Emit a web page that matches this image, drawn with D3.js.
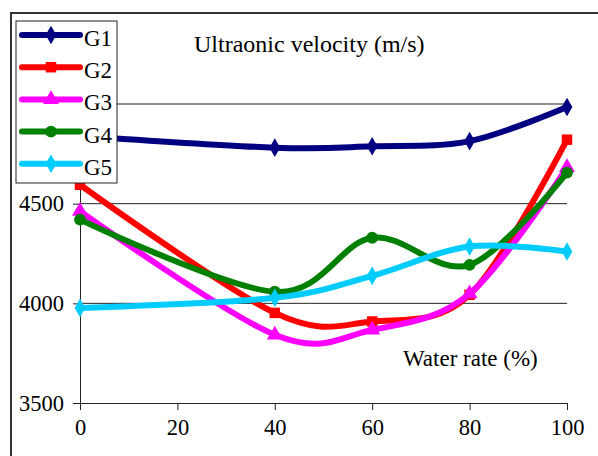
<!DOCTYPE html>
<html>
<head>
<meta charset="utf-8">
<script src="https://cdn.jsdelivr.net/npm/d3@7"></script>
</head>
<body style="margin:0; background:#fff">
<svg id="chart" width="598" height="456" font-family="Liberation Serif"></svg>
<script>
// water rate (%)
var waterRate = [0, 40, 60, 80, 100];
var seriesNames = ["G1", "G2", "G3", "G4", "G5"];
var g1 = [4840, 4781, 4788, 4814, 4985];
var g2 = [4595, 3952, 3909, 4043, 4821];
var g3 = [4462, 3842, 3867, 4048, 4682];
var g4 = [4420, 4058, 4329, 4193, 4656];
var g5 = [3977, 4028, 4138, 4285, 4260];
var xTicks = [0, 20, 40, 60, 80, 100];
var yTicks = [3500, 4000, 4500, 5000];

var colors = ["#000080", "#ff0000", "#ff00ff", "#008000", "#00ccff"];
var markers = [d3.symbolDiamond, d3.symbolSquare, d3.symbolTriangle, d3.symbolCircle, d3.symbolDiamond];
var markerSize = [100, 110, 110, 110, 100];

var series = [g1, g2, g3, g4, g5].map(function (vals, i) {
    return {
        name: seriesNames[i],
        color: colors[i],
        symbol: markers[i],
        size: markerSize[i],
        points: vals.map(function (v, j) { return { x: waterRate[j], y: v }; })
    };
});

var FONT = "Liberation Serif";
var svg = d3.select("#chart");

/* outer chart frame (runs off the picture on the right and bottom) */
svg.append("rect")
    .attr("x", 11).attr("y", 13)
    .attr("width", 700).attr("height", 600)
    .attr("fill", "none")
    .attr("stroke", "#333").attr("stroke-width", 2);

var x = d3.scaleLinear().domain([0, 100]).range([80, 567]);
var y = d3.scaleLinear().domain([3500, 5000]).range([403, 104]);

/* gridlines */
svg.append("g").selectAll("line")
    .data(yTicks.slice(1))
    .enter().append("line")
    .attr("x1", x(0)).attr("x2", x(100))
    .attr("y1", function (d) { return y(d); })
    .attr("y2", function (d) { return y(d); })
    .attr("stroke", "#222").attr("stroke-width", 1);

var xAxis = svg.append("g")
    .attr("transform", "translate(0," + y(3500) + ")")
    .call(d3.axisBottom(x).tickValues(xTicks).tickSize(7).tickPadding(9));

var yAxis = svg.append("g")
    .attr("transform", "translate(" + x(0) + ",0)")
    .call(d3.axisLeft(y).tickValues(yTicks).tickFormat(d3.format("d")).tickSize(7).tickPadding(9));

[xAxis, yAxis].forEach(function (ax) {
    ax.attr("font-family", FONT).attr("font-size", 22.5);
    ax.select(".domain").attr("stroke", "#222");
    ax.selectAll(".tick line").attr("stroke", "#222");
    ax.selectAll(".tick text").attr("fill", "#000");
});

/* lines, smoothed like the spreadsheet did */
var line = d3.line()
    .x(function (d) { return x(d.x); })
    .y(function (d) { return y(d.y); })
    .curve(d3.curveCardinal.tension(0));

var sg = svg.append("g").selectAll("g")
    .data(series)
    .enter().append("g");

sg.append("path")
    .attr("d", function (d) { return line(d.points); })
    .attr("fill", "none")
    .attr("stroke", function (d) { return d.color; })
    .attr("stroke-width", 6)
    .attr("stroke-linejoin", "round")
    .attr("stroke-linecap", "round");

sg.selectAll("path.mark")
    .data(function (d) { return d.points.map(function (p) { return { p: p, s: d }; }); })
    .enter().append("path")
    .attr("class", "mark")
    .attr("d", function (d) { return d3.symbol().type(d.s.symbol).size(d.s.size)(); })
    .attr("transform", function (d) { return "translate(" + x(d.p.x) + "," + y(d.p.y) + ")"; })
    .attr("fill", function (d) { return d.s.color; });

/* titles */
svg.append("text")
    .attr("x", 194).attr("y", 52)
    .attr("font-family", FONT).attr("font-size", 24)
    .text("Ultraonic velocity (m/s)");

svg.append("text")
    .attr("x", 403).attr("y", 366)
    .attr("font-family", FONT).attr("font-size", 23)
    .text("Water rate (%)");

/* legend */
var legend = svg.append("g");
legend.append("rect")
    .attr("x", 16).attr("y", 21)
    .attr("width", 101).attr("height", 162)
    .attr("fill", "#fff")
    .attr("stroke", "#222").attr("stroke-width", 1);

var item = legend.selectAll("g.item")
    .data(series)
    .enter().append("g")
    .attr("class", "item")
    .attr("transform", function (d, i) { return "translate(0," + (35 + i * 32.2) + ")"; });

item.append("line")
    .attr("x1", 22).attr("x2", 80)
    .attr("stroke", function (d) { return d.color; })
    .attr("stroke-width", 6)
    .attr("stroke-linecap", "round");

item.append("path")
    .attr("d", function (d) { return d3.symbol().type(d.symbol).size(d.size)(); })
    .attr("transform", "translate(51,0)")
    .attr("fill", function (d) { return d.color; });

item.append("text")
    .attr("x", 84).attr("y", 11)
    .attr("font-family", FONT).attr("font-size", 23)
    .text(function (d) { return d.name; });
</script>
</body>
</html>
